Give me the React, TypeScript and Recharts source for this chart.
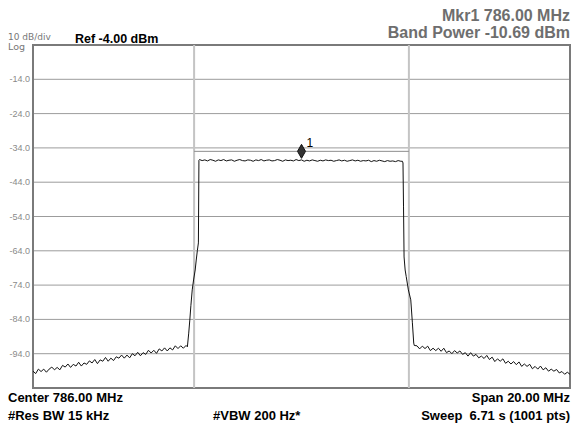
import React from "react";
import {
  LineChart,
  Line,
  XAxis,
  YAxis,
  CartesianGrid,
  ReferenceLine,
  ReferenceArea,
  ReferenceDot,
} from "recharts";

// frequency axis (MHz) and level axis (dBm)
const freqTicks = [776, 778, 780, 782, 784, 786, 788, 790, 792, 794, 796];
const levelTicks = [-104, -94, -84, -74, -64, -54, -44, -34, -24, -14, -4];

// noise floor below the channel, 776.0 .. 781.7 MHz every 0.1 MHz
const floorLeftStart = 776.0;
const floorLeft = [
  -99.1, -99.8, -98.5, -99.2, -98.5, -99.4, -98.5, -97.9, -98.7, -98.0,
  -98.7, -97.4, -97.9, -97.0, -98.0, -97.1, -97.6, -96.5, -97.6, -96.7,
  -97.1, -96.1, -96.7, -95.7, -96.9, -95.8, -96.2, -95.1, -96.2, -95.3,
  -96.0, -94.9, -95.3, -94.4, -95.3, -94.4, -95.2, -94.0, -94.6, -93.6,
  -94.6, -93.7, -94.2, -93.0, -93.8, -93.0, -93.9, -92.6, -93.2, -92.3,
  -93.2, -92.3, -92.9, -91.7, -92.5, -91.7, -92.4, -91.6,
];

// lower skirt [MHz, dBm]
const skirtLeft = [
  [781.75, -92.0], [781.8, -88.0], [781.84, -84.2], [781.88, -80.0],
  [781.93, -75.4], [781.98, -72.5], [782.04, -69.6], [782.08, -66.7],
  [782.12, -64.0], [782.16, -61.7], [782.18, -37.6],
];

// channel top, 782.2 .. 789.7 MHz every 0.1 MHz
const topStart = 782.2;
const channelTop = [
  -37.4, -37.7, -37.5, -37.8, -37.4, -37.6, -37.9, -37.5, -37.7, -37.4,
  -37.8, -37.6, -37.5, -37.9, -37.6, -37.4, -37.7, -37.8, -37.5, -37.6,
  -37.9, -37.5, -37.7, -37.4, -37.8, -37.6, -37.5, -37.8, -37.7, -37.4,
  -37.6, -37.9, -37.5, -37.7, -37.6, -37.8, -37.4, -37.7, -37.5, -37.9,
  -37.6, -37.8, -37.5, -37.7, -37.9, -37.6, -37.8, -37.5, -37.7, -37.6,
  -37.9, -37.7, -37.5, -37.8, -37.6, -37.9, -37.7, -37.5, -37.8, -37.6,
  -37.9, -37.7, -37.8, -37.6, -38.0, -37.7, -37.9, -37.6, -37.8, -38.0,
  -37.7, -37.9, -37.8, -38.0, -37.7, -37.9,
];

// upper skirt [MHz, dBm]
const skirtRight = [
  [789.76, -37.9], [789.78, -38.4], [789.8, -51.2], [789.82, -65.8],
  [789.86, -69.6], [789.9, -71.5], [789.98, -75.4], [790.07, -78.3],
  [790.13, -85.0], [790.18, -90.9], [790.2, -91.6],
];

// noise floor above the channel, 790.3 .. 796.0 MHz every 0.1 MHz
const floorRightStart = 790.3;
const floorRight = [
  -91.7, -92.6, -91.8, -92.5, -91.8, -93.1, -92.4, -93.1, -92.4, -93.3,
  -92.4, -93.7, -93.2, -94.0, -93.1, -93.8, -93.2, -94.2, -93.7, -94.7,
  -93.7, -94.7, -94.2, -95.2, -94.7, -95.4, -94.5, -95.7, -95.0, -96.3,
  -95.5, -96.2, -95.5, -96.8, -96.2, -97.0, -96.3, -97.2, -96.4, -97.7,
  -97.0, -97.7, -97.1, -98.4, -97.7, -98.5, -97.6, -98.7, -98.1, -99.1,
  -98.5, -99.1, -98.6, -99.6, -99.2, -100.0, -99.4, -100.0,
];

const bandEdges = [782, 790];
const bandLevel = -35;
const markerFreq = 786;

const sampled = (start: number, vals: number[]) =>
  vals.map((v, i) => ({ f: Math.round((start + i * 0.1) * 100) / 100, v }));
const pairs = (arr: number[][]) => arr.map(([f, v]) => ({ f, v }));

const trace = [
  ...sampled(floorLeftStart, floorLeft),
  ...pairs(skirtLeft),
  ...sampled(topStart, channelTop),
  ...pairs(skirtRight),
  ...sampled(floorRightStart, floorRight),
];

const FONT = '"Liberation Sans", Arial, sans-serif';
const SMALL = '"DejaVu Sans", Verdana, sans-serif';

const LevelTick = (props: any) => {
  const { x, y, payload } = props;
  const v = payload.value;
  if (v === -4 || v === -104) return null;
  return (
    <text x={x} y={y} dy={3} textAnchor="end" fontSize={9} fill="#8a8a8a" fontFamily={FONT}>
      {v.toFixed(1)}
    </text>
  );
};

const Diamond = (props: any) => {
  const { cx, cy } = props;
  return (
    <g>
      <polygon
        points={`${cx},${cy - 7} ${cx + 4},${cy} ${cx},${cy + 7} ${cx - 4},${cy}`}
        fill="#333"
        stroke="#111"
      />
      <text x={cx + 5} y={cy - 4} fontSize={12} fill="#000" stroke="none" fontFamily={FONT}>
        1
      </text>
    </g>
  );
};

const txt = (extra: any) => ({
  position: "absolute" as const,
  fontFamily: FONT,
  lineHeight: 1,
  whiteSpace: "pre" as const,
  ...extra,
});

export default function App() {
  return (
    <div style={{ position: "absolute", left: 0, top: 0, width: 571, height: 423, background: "#fff" }}>
      <LineChart
        width={571}
        height={423}
        data={trace}
        margin={{ top: 45, right: 1, bottom: 35, left: 0 }}
      >
        <CartesianGrid stroke="#9c9c9c" strokeWidth={1} />
        <XAxis
          type="number"
          dataKey="f"
          domain={[776, 796]}
          ticks={freqTicks}
          tick={false}
          axisLine={false}
          tickLine={false}
          height={0}
        />
        <YAxis
          type="number"
          domain={[-104, -4]}
          ticks={levelTicks}
          tick={<LevelTick />}
          axisLine={false}
          tickLine={false}
          tickSize={0}
          tickMargin={3}
          width={33}
        />
        {bandEdges.map((b) => (
          <ReferenceLine key={b} x={b} stroke="#c4c4c4" strokeWidth={2} />
        ))}
        <ReferenceLine
          segment={[
            { x: bandEdges[0], y: bandLevel },
            { x: bandEdges[1], y: bandLevel },
          ]}
          stroke="#8c8c8c"
          strokeWidth={1}
        />
        <ReferenceArea
          x1={776}
          x2={796}
          y1={-104}
          y2={-4}
          fill="none"
          stroke="#7a7a7a"
          strokeWidth={2}
          fillOpacity={0}
        />
        <Line
          type="linear"
          dataKey="v"
          stroke="#111"
          strokeWidth={1}
          dot={false}
          isAnimationActive={false}
        />
        <ReferenceDot x={markerFreq} y={bandLevel} shape={<Diamond />} />
      </LineChart>

      <div style={txt({ right: 1, top: 8, fontSize: 16, fontWeight: 700, color: "#6e6e6e" })}>
        Mkr1 786.00 MHz
      </div>
      <div style={txt({ right: 1, top: 25, fontSize: 16, fontWeight: 700, color: "#6e6e6e" })}>
        Band Power -10.69 dBm
      </div>
      <div style={txt({ left: 8, top: 33, fontSize: 9, fontFamily: SMALL, color: "#777" })}>
        10 dB/div
      </div>
      <div style={txt({ left: 8, top: 42, fontSize: 9.5, fontFamily: SMALL, color: "#777" })}>
        Log
      </div>
      <div style={txt({ left: 75, top: 33, fontSize: 12.5, fontWeight: 700, color: "#000" })}>
        Ref -4.00 dBm
      </div>
      <div style={txt({ left: 8, top: 391, fontSize: 13, fontWeight: 700, color: "#000" })}>
        Center 786.00 MHz
      </div>
      <div style={txt({ left: 8, top: 409, fontSize: 13, fontWeight: 700, color: "#000" })}>
        #Res BW 15 kHz
      </div>
      <div style={txt({ left: 213, top: 409, fontSize: 13, fontWeight: 700, color: "#000" })}>
        #VBW 200 Hz*
      </div>
      <div style={txt({ right: 1, top: 391, fontSize: 13, fontWeight: 700, color: "#000" })}>
        Span 20.00 MHz
      </div>
      <div style={txt({ right: 1, top: 409, fontSize: 13, fontWeight: 700, color: "#000" })}>
        Sweep  6.71 s (1001 pts)
      </div>
    </div>
  );
}
